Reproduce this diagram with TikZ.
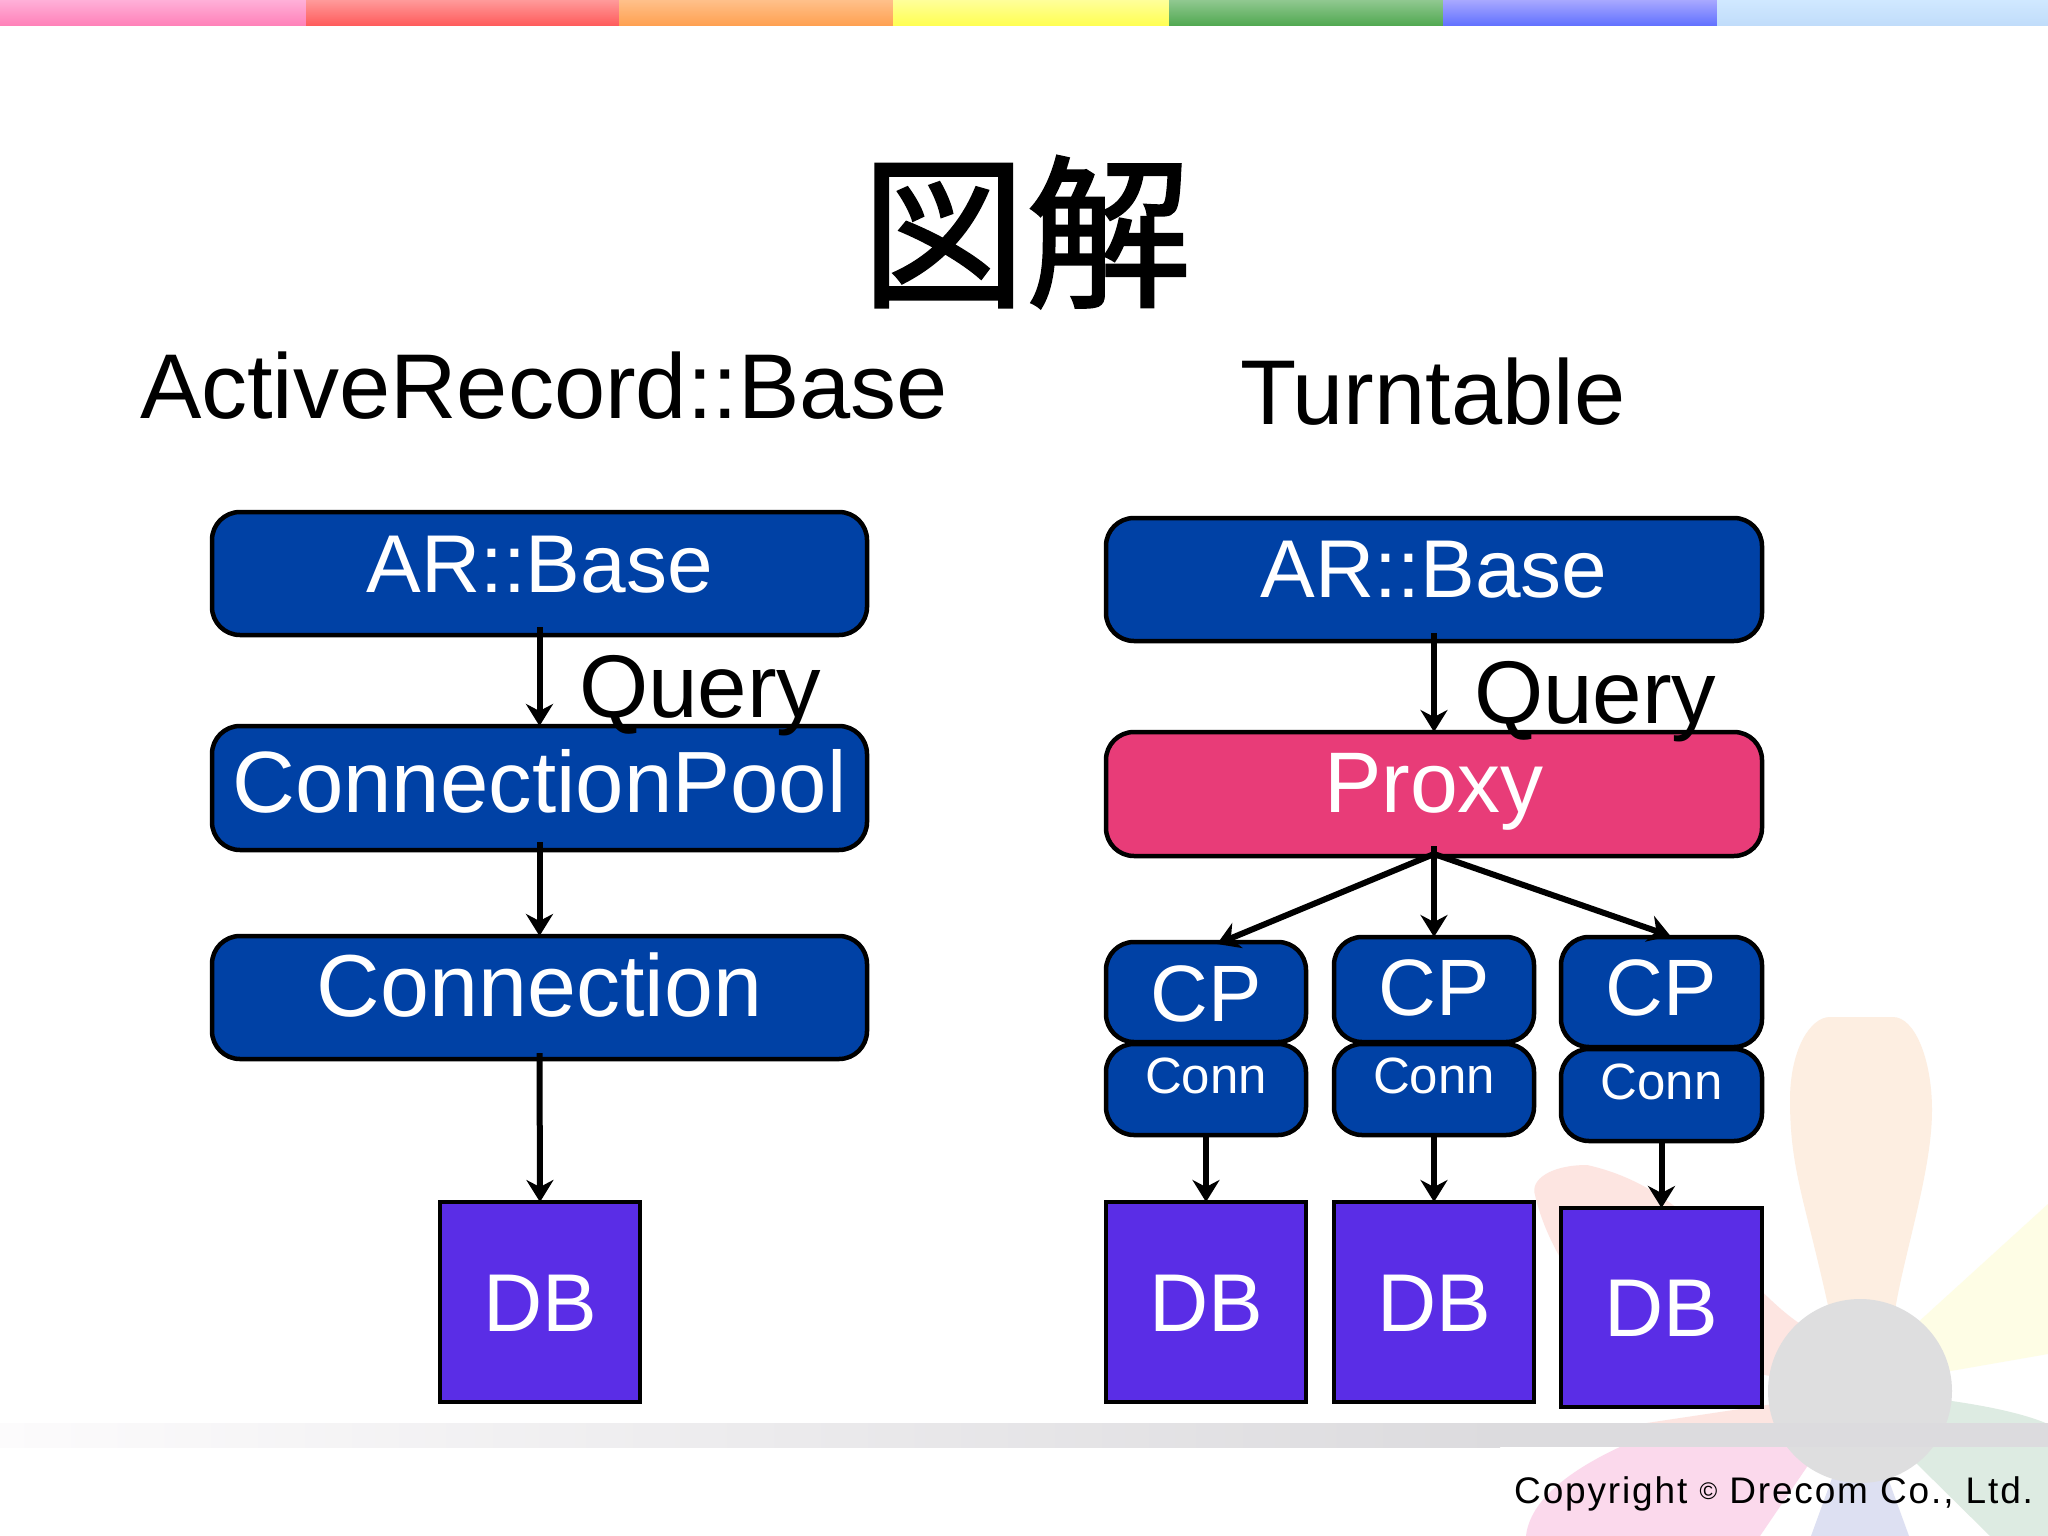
\documentclass[tikz,border=0pt]{standalone}
\usepackage{fontspec}
\setmainfont{Liberation Sans}
\newfontfamily\cjkface[RawFeature={embolden=1.5}]{Noto Sans CJK JP}
\newfontfamily\footface[LetterSpace=5]{Liberation Sans}
\usetikzlibrary{arrows.meta}
\definecolor{boxblue}{HTML}{0041A5}
\definecolor{proxyred}{HTML}{E83C78}
\definecolor{dbviolet}{HTML}{5A2DE6}
\definecolor{petalorange}{HTML}{FDEEE1}
\definecolor{petalred}{HTML}{FDE5E1}
\definecolor{petalyellow}{HTML}{FEFDE5}
\definecolor{petalgreen}{HTML}{DDEBE2}
\definecolor{petalblue}{HTML}{DDE0F2}
\definecolor{petalpink}{HTML}{FBD9EC}
\definecolor{hubgray}{HTML}{DEDEDF}
\definecolor{bandgray}{HTML}{D9D9DB}
\definecolor{bandpale}{HTML}{FCFBFC}
\definecolor{bandmid}{HTML}{DCDBDE}
\newcommand{\fsz}[1]{\fontsize{#1}{#1}\selectfont}
% \shapebox{style}{name}{x1}{y1}{x2}{y2}{baseline}{size}{text}
\newcommand{\shapebox}[9]{%
  \pgfmathsetmacro{\bw}{#5-#3-2}\pgfmathsetmacro{\bh}{#7-#4-1}\pgfmathsetmacro{\bd}{#6-#7-1}\pgfmathsetmacro{\bx}{#3+1}\pgfmathsetmacro{\by}{#4+1}%
  \node[#1,anchor=north west,minimum width=\bw pt,text height=\bh pt,text depth=\bd pt] (#2) at (\bx,\by) {\fsz{#8}#9};}
\tikzset{
  x=1pt,y=-1pt,
  blockbase/.style={draw=black,line width=4.5pt,inner sep=0pt,outer sep=0pt,text=white},
  roundblue/.style={blockbase,fill=boxblue,rounded corners=28pt},
  roundpink/.style={blockbase,fill=proxyred,rounded corners=28pt},
  dbsquare/.style={blockbase,fill=dbviolet},
  flow/.style={draw=black,line width=6pt,-{Stealth[length=22pt,width=27pt,inset=7pt]}},
  plain/.style={inner sep=0pt,outer sep=0pt,text=black,anchor=base west},
}
\begin{document}
\begin{tikzpicture}
\useasboundingbox (0,0) rectangle (2048,1536);
\fill[white] (0,0) rectangle (2048,1536);
% rainbow bar
\fill[top color={rgb,255:red,255;green,176;blue,216}, bottom color={rgb,255:red,255;green,128;blue,184}] (0,0) rectangle (306,26);
\fill[top color={rgb,255:red,255;green,154;blue,154}, bottom color={rgb,255:red,255;green,90;blue,90}] (306,0) rectangle (619,26);
\fill[top color={rgb,255:red,255;green,192;blue,138}, bottom color={rgb,255:red,255;green,160;blue,80}] (619,0) rectangle (893,26);
\fill[top color={rgb,255:red,255;green,255;blue,154}, bottom color={rgb,255:red,255;green,255;blue,80}] (893,0) rectangle (1169,26);
\fill[top color={rgb,255:red,144;green,200;blue,144}, bottom color={rgb,255:red,80;green,168;blue,80}] (1169,0) rectangle (1443,26);
\fill[top color={rgb,255:red,168;green,168;blue,255}, bottom color={rgb,255:red,96;green,112;blue,255}] (1443,0) rectangle (1717,26);
\fill[top color={rgb,255:red,208;green,232;blue,255}, bottom color={rgb,255:red,192;green,220;blue,250}] (1717,0) rectangle (2048,26);
% watermark flower
\fill[petalorange] (1829,1310) .. controls (1805,1200) and (1790,1170) .. (1790,1100) .. controls (1790,1050) and (1810,1017) .. (1830,1017) -- (1893,1017) .. controls (1915,1017) and (1932,1060) .. (1932,1110) .. controls (1932,1170) and (1905,1250) .. (1895,1310) -- cycle;
\fill[petalyellow] (1915,1325) -- (2048,1204) -- (2048,1354) -- (1945,1372) -- cycle;
\fill[petalred] (1810,1330) .. controls (1740,1290) and (1700,1190) .. (1587,1165) .. controls (1550,1165) and (1530,1180) .. (1535,1195) .. controls (1550,1260) and (1600,1320) .. (1640,1350) -- (1790,1380) -- (1800,1424) -- (1640,1424) -- (1800,1400) -- cycle;
\fill[petalpink] (1622,1446) .. controls (1570,1470) and (1530,1500) .. (1526,1536) -- (1760,1536) -- (1815,1455) -- (1790,1446) -- cycle;
\fill[petalblue] (1835,1470) -- (1811,1536) -- (1909,1536) -- (1885,1470) -- cycle;
\fill[petalgreen] (1945,1400) .. controls (1980,1405) and (2020,1412) .. (2048,1424) -- (2048,1536) -- (1990,1536) -- (1915,1462) -- cycle;
\fill[hubgray] (1860,1391) circle[radius=92];
% band
\fill[bandmid] (1499,1423) rectangle (2048,1447);
\fill[left color=bandpale, right color=bandmid] (0,1423) rectangle (1500,1447);
% headings
\node[inner sep=0pt,text=black] (title) at (1026,232) {\cjkface\fsz{165}図解};
\node[plain] (hleft) at (140,418) {\fsz{92}ActiveRecord::Base};
\node[plain] (hright) at (1240,424) {\fsz{92}Turntable};
% left column
\shapebox{roundblue}{la}{211}{511}{868}{636}{592}{82}{AR::Base}
\shapebox{roundblue}{lc}{211}{725}{868}{851}{812}{87}{ConnectionPool}
\shapebox{roundblue}{ln}{211}{935}{868}{1060}{1016}{88}{Connection}
\shapebox{dbsquare}{ld}{439}{1201}{641}{1403}{1331}{82}{DB}
% right column
\shapebox{roundblue}{ra}{1105}{517}{1763}{642}{597}{82}{AR::Base}
\shapebox{roundpink}{rp}{1105}{731}{1763}{857}{812}{86}{Proxy}
\shapebox{roundblue}{cpa}{1105}{941}{1307}{1043}{1021}{80}{CP}
\shapebox{roundblue}{cpb}{1333}{936}{1535}{1043}{1015}{80}{CP}
\shapebox{roundblue}{cpc}{1560}{936}{1763}{1048}{1015}{80}{CP}
\shapebox{roundblue}{ca}{1105}{1043}{1307}{1136}{1093}{51}{Conn}
\shapebox{roundblue}{cb}{1333}{1043}{1535}{1136}{1093}{51}{Conn}
\shapebox{roundblue}{cc}{1560}{1048}{1763}{1142}{1099}{51}{Conn}
\shapebox{dbsquare}{da}{1105}{1201}{1307}{1403}{1331}{82}{DB}
\shapebox{dbsquare}{db}{1333}{1201}{1535}{1403}{1331}{82}{DB}
\shapebox{dbsquare}{dc}{1560}{1207}{1763}{1408}{1336}{82}{DB}
% connectors
\draw[flow] ([yshift=8pt]la.south) -- (lc.north);
\draw[flow] ([yshift=8pt]lc.south) -- (ln.north);
\draw[flow] ([yshift=6pt]ln.south) -- (ld.north);
\draw[flow] ([yshift=8pt]ra.south) -- (rp.north);
\draw[flow] ([yshift=10pt]rp.south) -- (cpb.north);
\draw[flow] ([yshift=2pt]rp.south) -- ([xshift=11pt,yshift=-2pt]cpa.north);
\draw[flow] ([yshift=2pt]rp.south) -- ([xshift=9pt,yshift=1pt]cpc.north);
\draw[flow] (ca.south) -- (da.north);
\draw[flow] (cb.south) -- (db.north);
\draw[flow] (cc.south) -- (dc.north);
% query labels
\node[plain] (qa) at (579,717) {\fsz{89}Query};
\node[plain] (qb) at (1474,723) {\fsz{89}Query};
% footer
\node[plain,anchor=base east] (copy) at (2033,1503) {\footface\fsz{37}Copyright \raisebox{4pt}{\fsz{24}©} Drecom Co., Ltd.};
\end{tikzpicture}
\end{document}
